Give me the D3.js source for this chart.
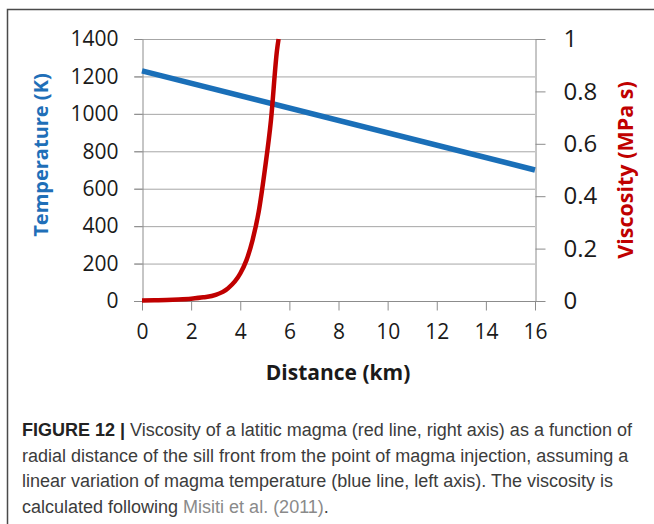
<!DOCTYPE html>
<html>
<head>
<meta charset="utf-8">
<script src="https://cdn.jsdelivr.net/npm/d3@7"></script>
<style>
  html, body { margin: 0; padding: 0; background: #fff; }
  svg { display: block; }
</style>
</head>
<body>
<svg id="fig" width="654" height="524"></svg>
<script>
// Distance along the sill (km) and the two quantities plotted against it
const distanceTicks = [0, 2, 4, 6, 8, 10, 12, 14, 16];
const temperatureTicks = [0, 200, 400, 600, 800, 1000, 1200, 1400];
const viscosityTicks = [0, 0.2, 0.4, 0.6, 0.8, 1];

// Temperature: linear decrease from the injection point (K)
const tempDistance = [0, 16];
const temperature = [1230, 700];

// Viscosity of the latitic magma (MPa s)
const viscDistance = [0, 0.5, 1, 1.5, 2, 2.5, 3, 3.5, 4, 4.25, 4.5, 4.75, 5, 5.25, 5.5, 5.56];
const viscosity = [0.002, 0.003, 0.004, 0.006, 0.009, 0.014, 0.023, 0.048, 0.105, 0.155, 0.232, 0.34, 0.5, 0.69, 0.96, 1.0];

const captionLines = [
  [{b: true, t: "FIGURE 12 | "}, {t: "Viscosity of a latitic magma (red line, right axis) as a function of"}],
  [{t: "radial distance of the sill front from the point of magma injection, assuming a"}],
  [{t: "linear variation of magma temperature (blue line, left axis).  The viscosity is"}],
  [{t: "calculated following "}, {t: "Misiti et al. (2011)", link: true}, {t: "."}]
];

const svg = d3.select("#fig");
const chartFont = "'Open Sans', 'DejaVu Sans', sans-serif";

// frame around the figure
svg.append("path")
  .attr("d", "M7.5,524 V9.5 H654")
  .attr("fill", "none").attr("stroke", "#4a4a4a").attr("stroke-width", 1.5);

const x = d3.scaleLinear().domain([0, 16]).range([142, 535]);
const yT = d3.scaleLinear().domain([0, 1400]).range([301, 39]);
const yV = d3.scaleLinear().domain([0, 1]).range([301, 39]);

const gridColor = "#a6a6a6";
const axisColor = "#8c8c8c";

// horizontal gridlines from the temperature axis
svg.append("g").selectAll("line").data(temperatureTicks.filter(d => d > 0)).join("line")
  .attr("x1", 134).attr("x2", d => d === 1400 ? 545 : x(16))
  .attr("y1", d => yT(d) + 0.5).attr("y2", d => yT(d) + 0.5)
  .attr("stroke", gridColor).attr("stroke-width", 1);

// left axis
const leftAxis = svg.append("g").attr("transform", `translate(${x(0) + 0.5},0)`)
  .call(d3.axisLeft(yT).tickValues(temperatureTicks).tickSize(8).tickPadding(16).tickSizeOuter(0)
    .tickFormat(d3.format("d")));
// right axis
const rightAxis = svg.append("g").attr("transform", `translate(${x(16) + 0.5},0)`)
  .call(d3.axisRight(yV).tickValues(viscosityTicks).tickSize(10).tickPadding(18).tickSizeOuter(0)
    .tickFormat(d => d === 0 || d === 1 ? d3.format("d")(d) : d3.format(".1f")(d)));
// bottom axis
const bottomAxis = svg.append("g").attr("transform", `translate(0,${yT(0) + 0.5})`)
  .call(d3.axisBottom(x).tickValues(distanceTicks).tickSize(9).tickPadding(14).tickSizeOuter(0)
    .tickFormat(d3.format("d")));

[leftAxis, rightAxis, bottomAxis].forEach(g => {
  g.select(".domain").attr("stroke", axisColor);
  g.selectAll(".tick line").attr("stroke", axisColor);
  g.selectAll("text").attr("fill", "#1a1a1a").style("font-family", chartFont);
});
leftAxis.selectAll("text").style("font-size", "21px");
bottomAxis.selectAll("text").style("font-size", "21px");
rightAxis.selectAll("text").style("font-size", "24px");
// x axis line spans both tick stubs
bottomAxis.select(".domain").attr("d", `M134,0H545`);

// temperature line
svg.append("path")
  .datum(tempDistance.map((d, i) => [d, temperature[i]]))
  .attr("fill", "none").attr("stroke", "#1a6fb8").attr("stroke-width", 5.5)
  .attr("d", d3.line().x(d => x(d[0])).y(d => yT(d[1])));

// viscosity line
svg.append("path")
  .datum(viscDistance.map((d, i) => [d, viscosity[i]]))
  .attr("fill", "none").attr("stroke", "#c00000").attr("stroke-width", 4.5)
  .attr("d", d3.line().curve(d3.curveMonotoneX).x(d => x(d[0])).y(d => yV(d[1])));

// axis titles
svg.append("text")
  .attr("x", 338).attr("y", 380)
  .attr("text-anchor", "middle")
  .style("font-family", chartFont).style("font-weight", "bold").style("font-size", "21px")
  .attr("fill", "#1a1a1a")
  .text("Distance (km)");

svg.append("text")
  .attr("transform", "translate(48,155) rotate(-90)")
  .attr("text-anchor", "middle")
  .style("font-family", chartFont).style("font-weight", "bold").style("font-size", "20px")
  .attr("fill", "#1f6fb8")
  .text("Temperature (K)");

svg.append("text")
  .attr("transform", "translate(633,170) rotate(-90)")
  .attr("text-anchor", "middle")
  .style("font-family", chartFont).style("font-weight", "bold").style("font-size", "21.5px")
  .attr("fill", "#c00000")
  .text("Viscosity (MPa s)");

// caption, sized so the first line fills the text column
const cap = svg.append("g")
  .style("font-family", "'Liberation Sans', Arial, sans-serif")
  .style("font-size", "16px")
  .style("white-space", "pre");
const capTexts = captionLines.map((line, i) => {
  const t = cap.append("text").attr("x", 22).attr("y", 436 + i * 25.5);
  line.forEach(seg => {
    t.append("tspan")
      .style("font-weight", seg.b ? "bold" : "normal")
      .attr("fill", seg.link ? "#8a8a8a" : (seg.b ? "#222" : "#3c3c3c"))
      .text(seg.t);
  });
  return t;
});
const firstWidth = capTexts[0].node().getComputedTextLength();
cap.style("font-size", (16 * 610 / firstWidth).toFixed(2) + "px");
</script>
</body>
</html>
